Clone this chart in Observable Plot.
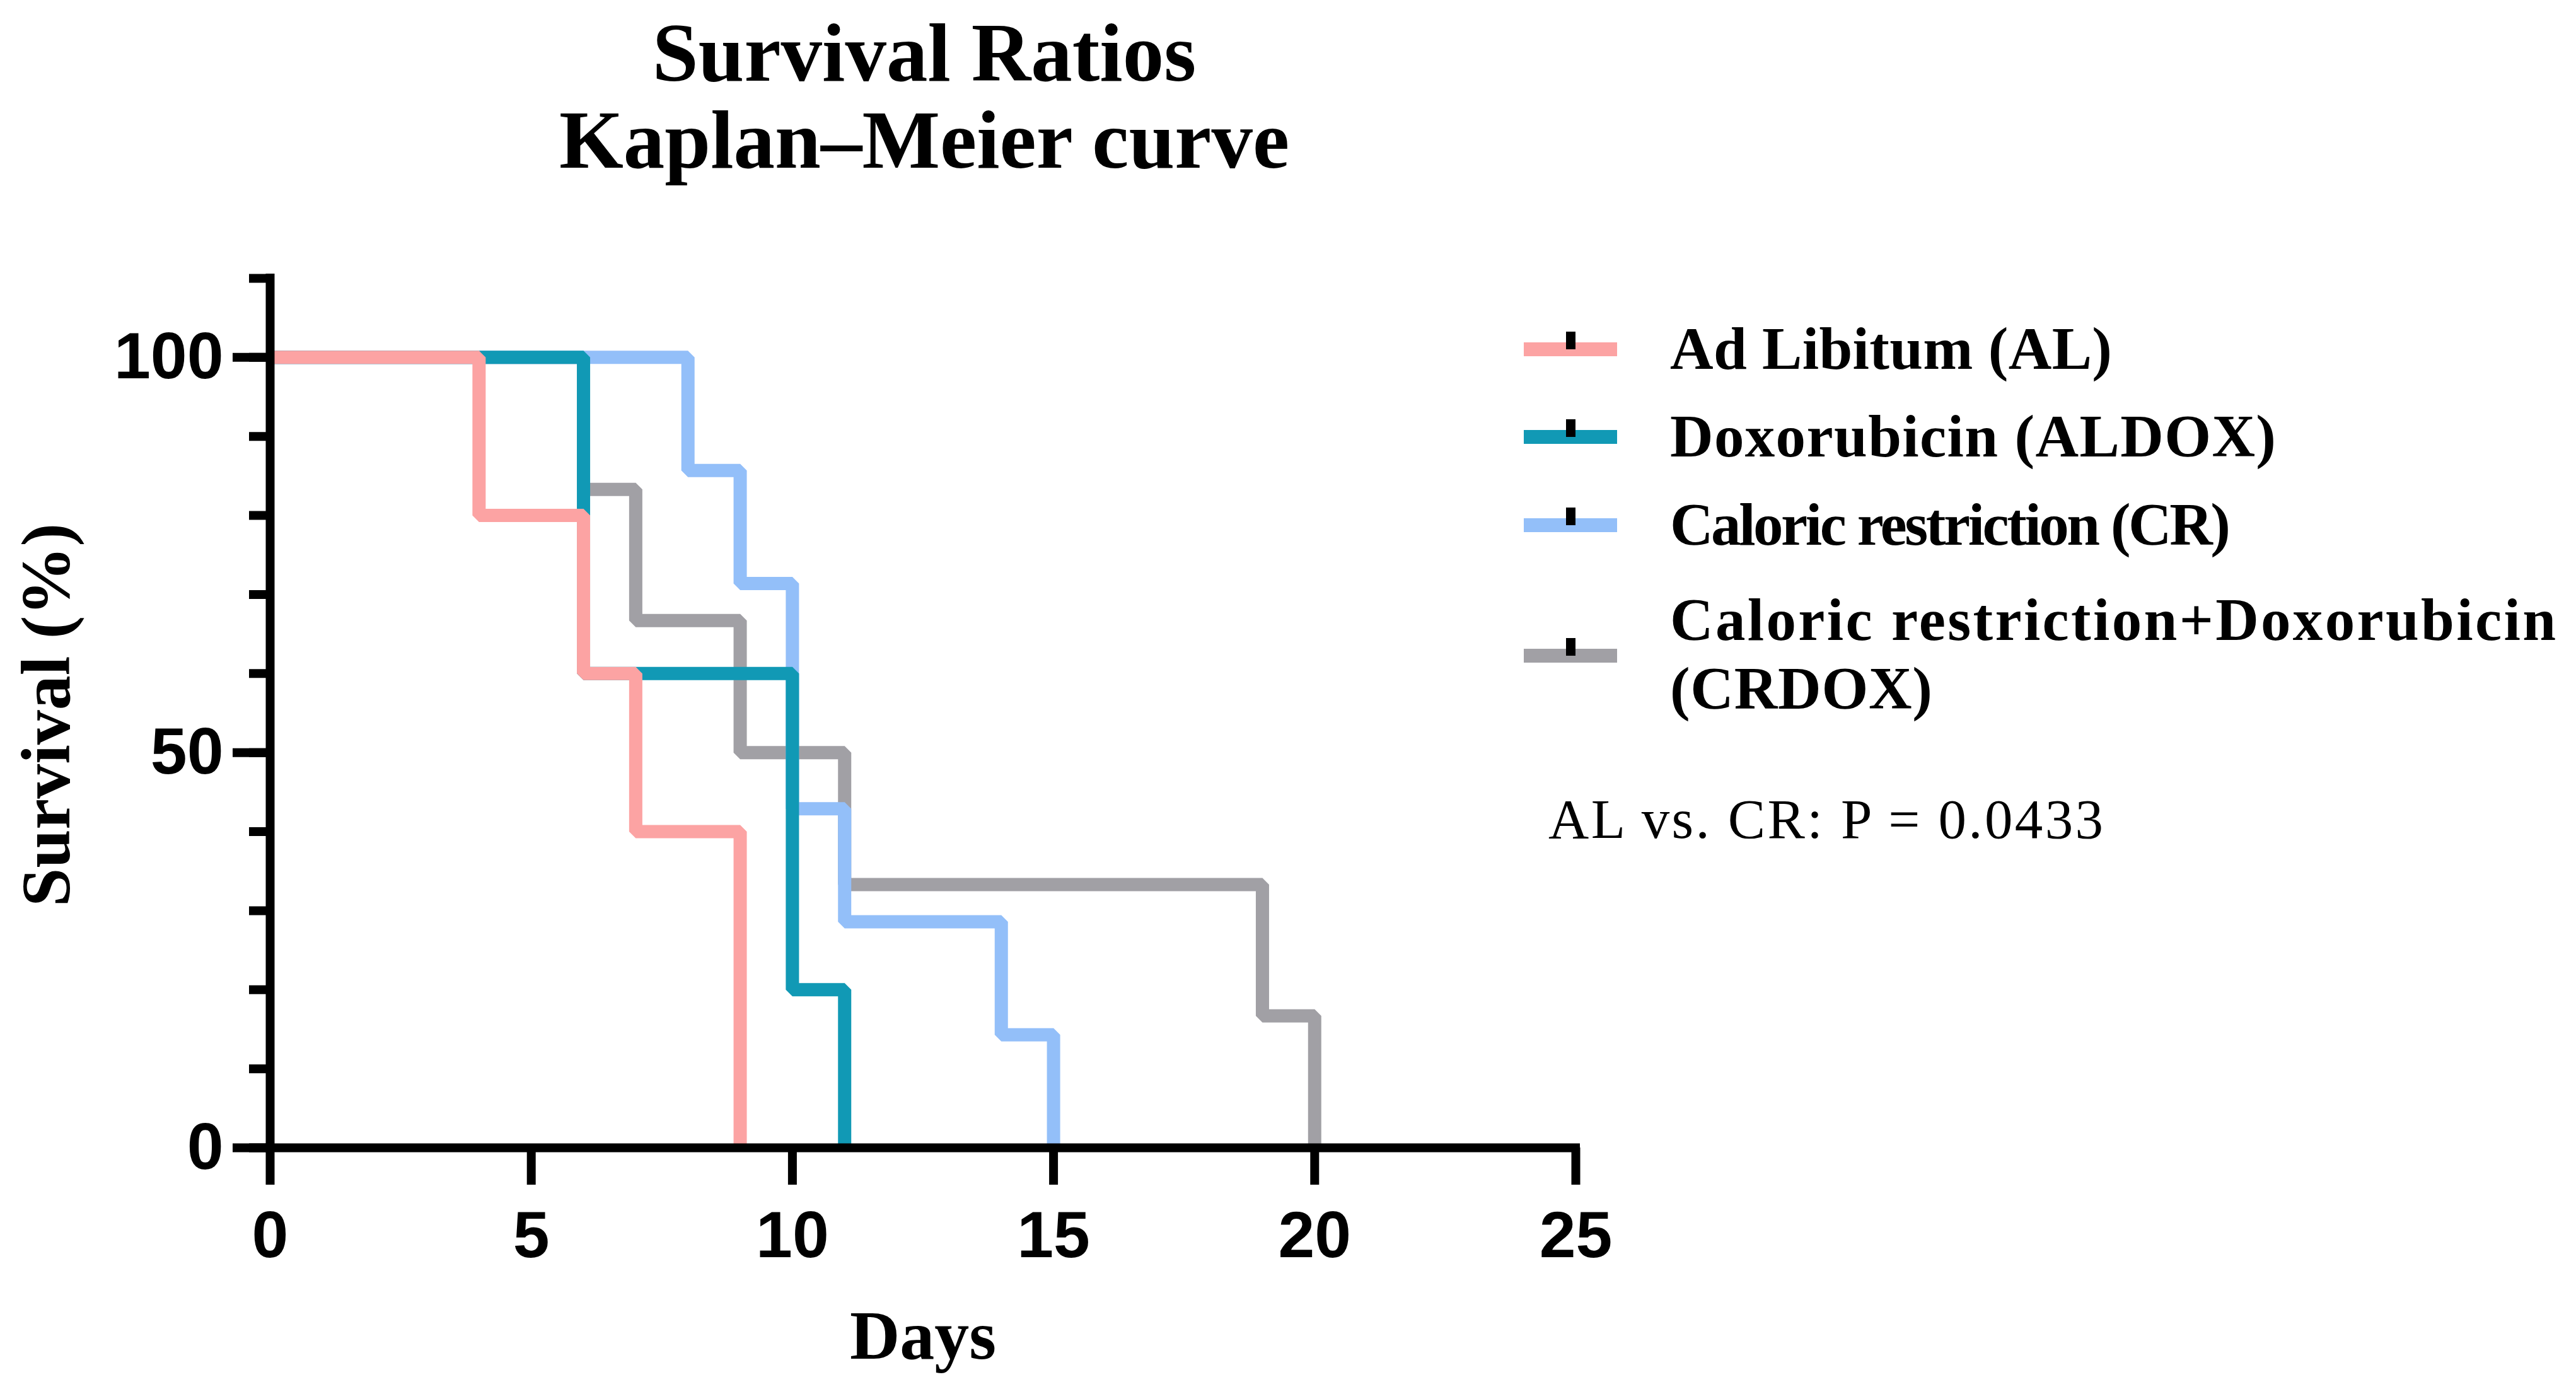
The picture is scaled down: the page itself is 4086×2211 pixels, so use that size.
<!DOCTYPE html>
<html>
<head>
<meta charset="utf-8">
<script src="https://cdn.jsdelivr.net/npm/d3@7"></script>
<script src="https://cdn.jsdelivr.net/npm/@observablehq/plot@0.6"></script>
<style>
  body { margin: 0; background: #fff; }
  #page { position: relative; width: 4086px; height: 2211px; overflow: hidden; background: #fff; }
  #plot { position: absolute; left: 0; top: 300px; }
</style>
</head>
<body>
<div id="page">
  <div id="plot"></div>
</div>
<script>
// ---- data ----
const groupNames = ["Ad Libitum (AL)", "Doxorubicin (ALDOX)", "Caloric restriction (CR)", "Caloric restriction+Doxorubicin (CRDOX)"];
const groupColors = ["#FCA3A3", "#1199B5", "#93BFF9", "#A1A0A5"];

const alDays = [0, 4, 6, 7, 9];
const alSurv = [100, 80, 60, 40, 0];
const aldoxDays = [0, 6, 10, 11];
const aldoxSurv = [100, 60, 20, 0];
const crDays = [0, 8, 9, 10, 11, 14, 15];
const crSurv = [100, 85.7, 71.4, 42.9, 28.6, 14.3, 0];
const crdoxDays = [0, 6, 7, 9, 11, 19, 20];
const crdoxSurv = [100, 83.3, 66.7, 50, 33.3, 16.7, 0];

const xTicks = [0, 5, 10, 15, 20, 25];
const yMajorTicks = [0, 50, 100];
const yMinorTicks = d3.range(0, 111, 10);
const titleLines = ["Survival Ratios", "Kaplan\u2013Meier curve"];
const xLabel = "Days";
const yLabel = "Survival (%)";
const annotation = "AL vs. CR: P = 0.0433";

const toRows = (days, surv) => days.map((d, i) => ({day: d, surv: surv[i]}));
const series = [
  toRows(alDays, alSurv),
  toRows(aldoxDays, aldoxSurv),
  toRows(crDays, crSurv),
  toRows(crdoxDays, crdoxSurv)
];

const lineOpts = (i) => ({
  x: "day", y: "surv", curve: "step-after",
  stroke: groupColors[i], strokeWidth: 21,
  strokeLinejoin: "miter", strokeLinecap: "butt"
});

const serif = "Liberation Serif, Times New Roman, serif";
const sans = "Liberation Sans, Arial, sans-serif";

const chart = Plot.plot({
  width: 2600,
  height: 1911,
  marginTop: 141,
  marginBottom: 391,
  marginLeft: 428,
  marginRight: 101,
  x: {domain: [0, 25]},
  y: {domain: [0, 110]},
  style: {fontFamily: sans, fontWeight: "bold", fontSize: "104px", background: "transparent", overflow: "visible", color: "#000"},
  marks: [
    // draw order: CRDOX (bottom), CR, ALDOX, AL (top)
    Plot.line(series[3], lineOpts(3)),
    Plot.line(series[2], lineOpts(2)),
    Plot.line(series[1], lineOpts(1)),
    Plot.line(series[0], lineOpts(0)),
    Plot.ruleX([0], {y1: 0, y2: 110, stroke: "#000", strokeWidth: 14, strokeLinecap: "square"}),
    Plot.ruleY([0], {x1: 0, x2: 25, stroke: "#000", strokeWidth: 14, strokeLinecap: "square"}),
    Plot.axisY({ticks: yMinorTicks, tickSize: 33, tickFormat: () => "", stroke: "#000", strokeWidth: 14, label: null}),
    Plot.axisY({ticks: yMajorTicks, tickSize: 59, tickPadding: 15, stroke: "#000", strokeWidth: 14, fontSize: 104, fontWeight: "bold", fontFamily: sans, label: null}),
    Plot.axisX({ticks: xTicks, tickSize: 59, tickPadding: 41, stroke: "#000", strokeWidth: 14, fontSize: 104, fontWeight: "bold", fontFamily: sans, label: null}),
    Plot.text([xLabel], {text: d => d, frameAnchor: "bottom", dy: 334, fontFamily: serif, fontWeight: "bold", fontSize: 110, fill: "#000"})
  ]
});
document.getElementById("plot").appendChild(chart);

// ---- title, y label, legend, annotation ----
const ov = d3.select("#page").append("svg")
  .attr("width", 4086).attr("height", 2211)
  .style("position", "absolute").style("left", "0px").style("top", "0px")
  .style("pointer-events", "none");

const titleBaselines = [128, 266];
titleLines.forEach((t, i) => {
  ov.append("text").attr("x", 1466).attr("y", titleBaselines[i])
    .attr("text-anchor", "middle")
    .attr("font-family", serif).attr("font-weight", "bold").attr("font-size", 131)
    .text(t);
});

ov.append("text")
  .attr("transform", "translate(110,1134) rotate(-90)")
  .attr("text-anchor", "middle")
  .attr("font-family", serif).attr("font-weight", "bold").attr("font-size", 110)
  .text(yLabel);

const legendCenters = [554, 693, 833, 1040];
const legendLines = [["Ad Libitum (AL)"], ["Doxorubicin (ALDOX)"], ["Caloric restriction (CR)"], ["Caloric restriction+Doxorubicin", "(CRDOX)"]];
const legendBaselines = [[585], [724], [864], [1015, 1124]];
const legendWidths = [[701], [961], [889], [1405, 416]];
groupNames.forEach((g, i) => {
  const c = legendCenters[i];
  ov.append("rect").attr("x", 2417).attr("y", c - 11).attr("width", 148).attr("height", 22).attr("fill", groupColors[i]);
  ov.append("rect").attr("x", 2484).attr("y", c - 28).attr("width", 15).attr("height", 28).attr("fill", "#000");
  legendLines[i].forEach((line, j) => {
    ov.append("text").attr("x", 2649).attr("y", legendBaselines[i][j])
      .attr("font-family", serif).attr("font-weight", "bold").attr("font-size", 95)
      .attr("textLength", legendWidths[i][j]).attr("lengthAdjust", "spacing")
      .text(line);
  });
});

ov.append("text").attr("x", 2456).attr("y", 1329)
  .attr("font-family", serif).attr("font-size", 89)
  .attr("textLength", 880).attr("lengthAdjust", "spacing")
  .text(annotation);
</script>
</body>
</html>
